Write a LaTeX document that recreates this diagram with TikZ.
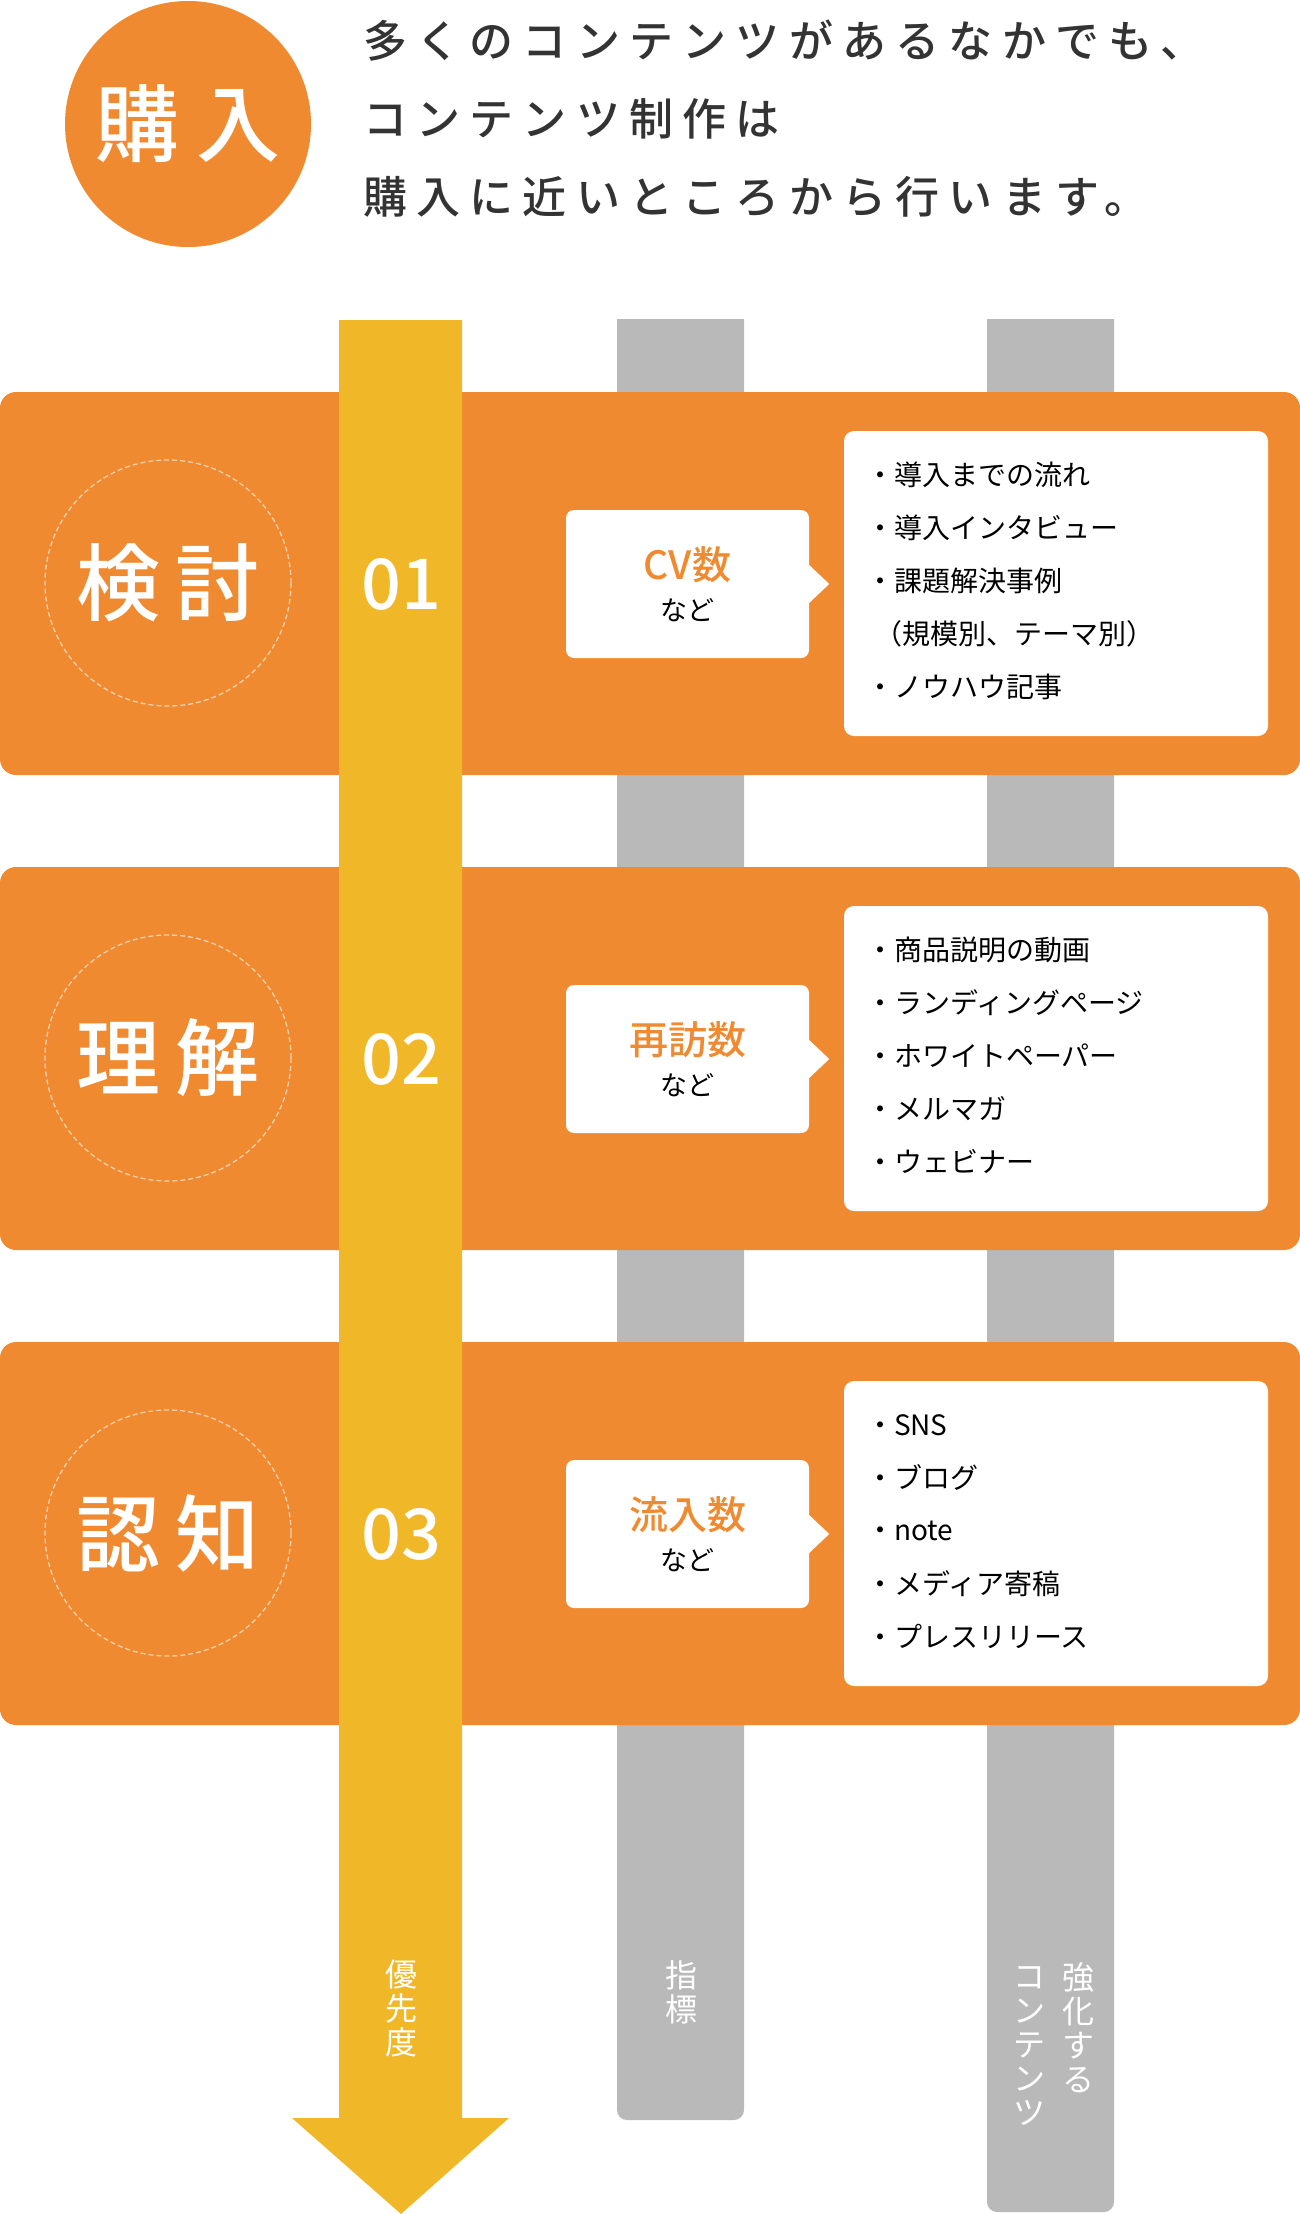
\documentclass[tikz,border=0pt]{standalone}
\usepackage{fontspec}
\setmainfont{Noto Sans CJK JP}
\IfFontExistsTF{Noto Sans CJK JP Medium}
  {\newfontfamily\medfont{Noto Sans CJK JP Medium}}
  {\newcommand\medfont{\bfseries}}
\usetikzlibrary{positioning}
\definecolor{bandorange}{RGB}{240,138,48}
\definecolor{arrowyellow}{RGB}{240,184,40}
\definecolor{bargray}{RGB}{185,185,185}
\definecolor{textdark}{RGB}{51,51,51}

\begin{document}
\begin{tikzpicture}[x=1pt, y=-1pt,
    band/.style={fill=bandorange, rounded corners=16pt},
    goalring/.style={circle, fill=bandorange, minimum size=246pt, inner sep=0pt, text=white, font=\fontsize{84}{84}\selectfont\medfont},
    stagering/.style={circle, minimum size=246pt, inner sep=0pt, draw=white, draw opacity=0.6, dash pattern=on 5pt off 3pt, line width=1.3pt, text=white, font=\fontsize{84}{84}\selectfont\medfont},
    stagenum/.style={text=white, inner sep=0pt, font=\fontsize{70}{70}\selectfont\medfont},
    kpibox/.style={fill=white, rounded corners=8pt, minimum width=243pt, minimum height=148pt},
    kpititle/.style={text=bandorange, inner sep=0pt, font=\fontsize{39}{39}\selectfont\medfont},
    kpinote/.style={text=black, inner sep=0pt, font=\fontsize{27}{27}\selectfont},
    listbox/.style={fill=white, rounded corners=10pt, minimum width=424pt, minimum height=305pt},
    listitem/.style={anchor=west, inner sep=0pt, text=black, font=\fontsize{28}{28}\selectfont},
    headline/.style={anchor=west, inner sep=0pt, text=textdark, font=\fontsize{44}{44}\medfont\addfontfeatures{LetterSpace=21}},
    vlabel/.style={anchor=north, align=center, inner sep=0pt, text=white, font=\fontsize{32}{34}\selectfont},
  ]
  \useasboundingbox (0,0) rectangle (1300,2214);

  % Goal and lead text
  \node[goalring] (goal) at (188,124) {購\hspace{18pt}入};
  \node[headline] (lead1) at (363,41) {多くのコンテンツがあるなかでも、};
  \node[headline] (lead2) at (363,119) {コンテンツ制作は};
  \node[headline] (lead3) at (363,197) {購入に近いところから行います。};

  % Gray columns (behind the bands)
  \fill[bargray] (617,319) -- (744,319) [rounded corners=10pt] -- (744,2120) -- (617,2120) [sharp corners] -- cycle;
  \fill[bargray] (987,319) -- (1114,319) [rounded corners=10pt] -- (1114,2212) -- (987,2212) [sharp corners] -- cycle;

  % Stage bands
  \foreach \y in {0,475,950}
    \fill[band] (0,392+\y) rectangle (1300,775+\y);

  % Priority arrow
  \fill[arrowyellow] (339,320) -- (462,320) -- (462,2118) -- (509,2118)
    -- (401,2214) -- (292,2118) -- (339,2118) -- cycle;

  % Stage contents
  \foreach \name/\ca/\cb/\num/\kpi [count=\i from 0] in
      {kentou/検/討/01/CV数, rikai/理/解/02/再訪数, ninchi/認/知/03/流入数} {
    \node[stagering] (\name-ring) at (168,583+475*\i) {\ca\hspace{16pt}\cb};
    \node[stagenum] (\name-num) at (401,584+475*\i) {\num};
    \node[kpibox] (\name-kpi) at (687.5,584+475*\i) {};
    \fill[white] ([yshift=19pt]\name-kpi.east) -- ([xshift=20pt]\name-kpi.east)
      -- ([yshift=-19pt]\name-kpi.east) -- cycle;
    \node[kpititle] (\name-kpititle) at ([yshift=19pt]\name-kpi.center) {\kpi};
    \node[kpinote] (\name-kpinote) at ([yshift=-26pt]\name-kpi.center) {など};
    \node[listbox] (\name-list) at (1056,583.5+475*\i) {};
  }

  % Content lists
  \foreach \txt [count=\k] in {・導入までの流れ, ・導入インタビュー, ・課題解決事例,
      {\hspace{8pt}（規模別、テーマ別）}, ・ノウハウ記事}
    \node[listitem] (kentou-item\k) at ([xshift=22pt, yshift={-44-53*(\k-1)}]kentou-list.north west) {\txt};
  \foreach \txt [count=\k] in {・商品説明の動画, ・ランディングページ, ・ホワイトペーパー,
      ・メルマガ, ・ウェビナー}
    \node[listitem] (rikai-item\k) at ([xshift=22pt, yshift={-44-53*(\k-1)}]rikai-list.north west) {\txt};
  \foreach \txt [count=\k] in {・SNS, ・ブログ, ・note, ・メディア寄稿, ・プレスリリース}
    \node[listitem] (ninchi-item\k) at ([xshift=22pt, yshift={-44-53*(\k-1)}]ninchi-list.north west) {\txt};

  % Column labels
  \node[vlabel] (prioritylabel) at (401,1960) {優\\先\\度};
  \node[vlabel] (kpilabel) at (681,1960) {指\\標};
  \node[vlabel] (contentlabel) at (1078,1962) {強\\化\\す\\る};
  \node[vlabel] (contentlabelb) at (1029,1966) {コ\\ン\\テ\\ン\\ツ};
\end{tikzpicture}
\end{document}
